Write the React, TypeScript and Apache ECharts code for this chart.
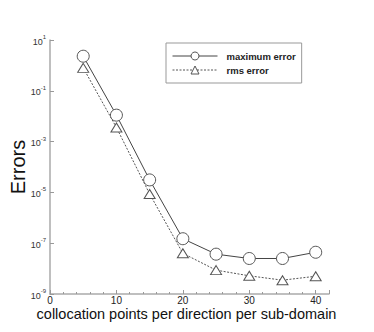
import React, { useEffect, useRef } from "react";
import * as echarts from "echarts";

const xPoints = [5, 10, 15, 20, 25, 30, 35, 40];
const maxError = [2.3, 0.011, 3.1e-5, 1.5e-7, 3.7e-8, 2.5e-8, 2.5e-8, 4.4e-8];
const rmsError = [0.8, 3.6e-3, 8.7e-6, 4e-8, 8.7e-9, 5.2e-9, 3.5e-9, 5e-9];
const seriesNames = ["maximum error", "rms error"];

export default function App() {
  const ref = useRef<HTMLDivElement>(null);
  useEffect(() => {
    const chart = echarts.init(ref.current!, null, { renderer: "svg" });
    const font = "Liberation Sans";
    chart.setOption({
      animation: false,
      backgroundColor: "#ffffff",
      textStyle: { fontFamily: font },
      grid: { left: 49, right: 45, top: 40, bottom: 38, containLabel: false },
      legend: {
        left: 166,
        top: 43,
        width: 138,
        orient: "vertical",
        backgroundColor: "#fff",
        borderColor: "#999",
        borderWidth: 1,
        borderRadius: 0,
        padding: [8, 6, 8, 6],
        itemGap: 4,
        itemWidth: 45,
        itemHeight: 10,
        lineStyle: { width: 1 },
        itemStyle: { borderWidth: 1 },
        textStyle: { fontFamily: font, fontSize: 9.5, fontWeight: "bold", color: "#222", padding: [0, 0, 0, 4] },
        data: seriesNames,
      },
      xAxis: {
        type: "value",
        min: 0,
        max: 42,
        interval: 10,
        axisLine: { show: true, lineStyle: { color: "#aaa", width: 1.5 } },
        axisTick: { show: true, inside: true, length: 4, lineStyle: { color: "#999" } },
        minorTick: { show: true, splitNumber: 5, length: 2, lineStyle: { color: "#999" } },
        splitLine: { show: false },
        axisLabel: { fontSize: 10, lineHeight: 10, color: "#222", margin: 1, fontFamily: font, showMaxLabel: false },
        name: "collocation points per direction per sub-domain",
        nameLocation: "middle",
        nameMoveOverlap: false,
        nameGap: 12,
        nameTextStyle: { fontSize: 14.5, color: "#111", fontFamily: font, verticalAlign: "top", lineHeight: 15, padding: [0, 6, 0, 0] },
      },
      yAxis: {
        type: "log",
        logBase: 10,
        min: 1e-9,
        max: 10,
        interval: 2,
        axisLine: { show: true, lineStyle: { color: "#aaa", width: 1.5 } },
        axisTick: { show: true, inside: true, length: 4, lineStyle: { color: "#999" } },
        splitLine: { show: false },
        axisLabel: {
          margin: 4,
          formatter: (v: number) => {
            const e = Math.round(Math.log10(v));
            return "{b|10}{s|" + e + "}";
          },
          rich: {
            b: { fontSize: 9, color: "#333", fontFamily: font, lineHeight: 12, verticalAlign: "bottom" },
            s: { fontSize: 6, color: "#333", fontFamily: font, lineHeight: 12, verticalAlign: "top", padding: [0, 0, 4, 0] },
          },
        },
        name: "Errors",
        nameLocation: "middle",
        nameMoveOverlap: false,
        nameGap: 22,
        nameTextStyle: { fontSize: 20, color: "#111", fontFamily: font },
      },
      series: [
        {
          name: seriesNames[0],
          type: "line",
          data: xPoints.map((x, i) => [x, maxError[i]]),
          symbol: "circle",
          symbolSize: 12,
          itemStyle: { color: "#fff", borderColor: "#555", borderWidth: 1 },
          lineStyle: { color: "#444", width: 1, type: "solid" },
          z: 3,
        },
        {
          name: seriesNames[1],
          type: "line",
          data: xPoints.map((x, i) => [x, rmsError[i]]),
          symbol: "triangle",
          symbolSize: [11, 9],
          itemStyle: { color: "#fff", borderColor: "#555", borderWidth: 1 },
          lineStyle: { color: "#555", width: 1, type: [2, 1.5] },
          z: 2,
        },
      ],
    });
    return () => chart.dispose();
  }, []);
  return <div ref={ref} style={{ width: 374, height: 332, position: "absolute", left: 0, top: 0 }} />;
}
